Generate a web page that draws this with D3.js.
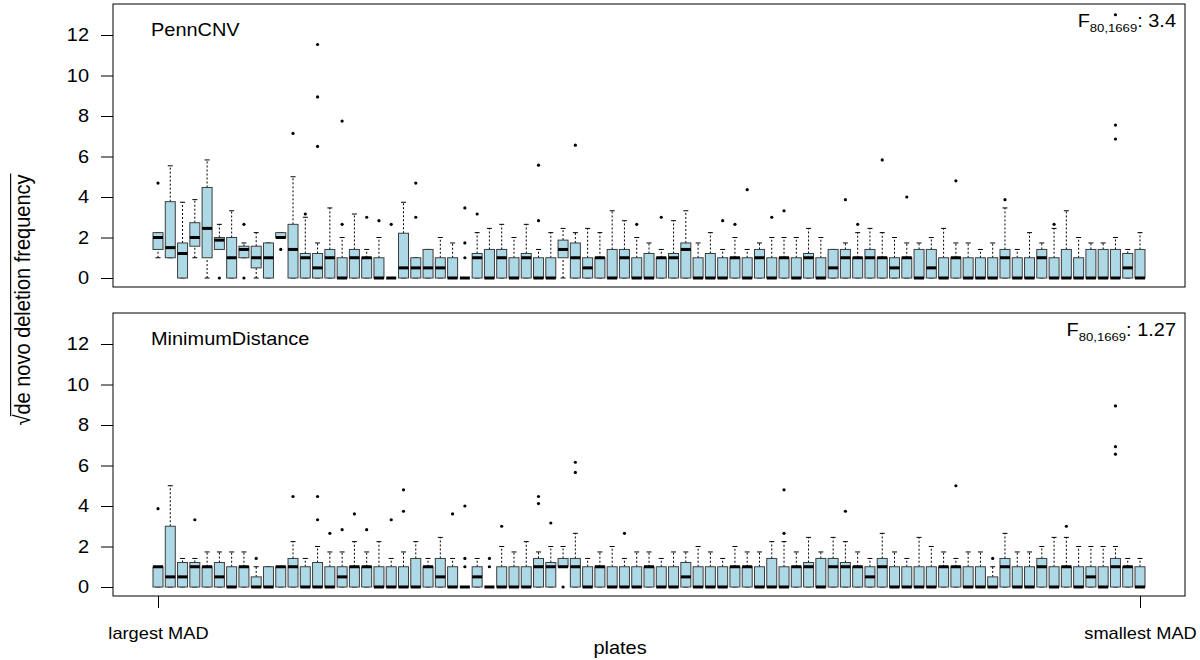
<!DOCTYPE html>
<html>
<head>
<meta charset="utf-8">
<title>de novo deletion frequency by plate</title>
<style>
body { margin: 0; background: #fff; }
svg text { font-family: "Liberation Sans", Arial, Helvetica, sans-serif; fill: #000; }
</style>
</head>
<body>
<div id="container"></div>
<script src="https://cdn.jsdelivr.net/npm/d3@7"></script>
<script>
// One row per plate, ordered from largest to smallest MAD:
// [lower whisker, lower hinge, median, upper hinge, upper whisker]
const pennStats = [
  [1,1.41,2,2.24,2.24],[1,1,1.5,3.77,5.54],[0,0,1.21,1.73,3.74],[1,1.57,2,2.73,3.87],[0,1,2.45,4.47,5.83],
  [1.41,1.41,1.87,2,2.65],[0,0,1,2,3.32],[1,1,1.41,1.57,1.73],[0,0.5,1,1.57,2.24],[0,0,1,1.73,1.73],
  [2,2,2,2.24,2.24],[0,0,1.41,2.65,5],[0,0,1,1.21,3],[0,0,0.5,1.21,1.73],[0,0,1,1.41,3.46],
  [0,0,0,1,2],[0,0,1,1.41,3.16],[0,0,1,1,1.41],[0,0,0,1,2],[0,0,0,0,0],
  [0,0,0.5,2.21,3.74],[0,0,0.5,1,1],[0,0,0.5,1.41,1.41],[0,0,0.5,1,2],[0,0,0,1,1.73],
  [0,0,0,0,0],[0,0,1,1.21,2.24],[0,0,0,1.41,2.45],[0,0,1,1.41,2.65],[0,0,0,1,2],
  [0,0,1,1.21,2.65],[0,0,0,1,1.41],[0,0,0,1,2.24],[0,1,1.41,1.87,2.45],[0,0,1,1.73,2.24],
  [0,0,0.5,1,2.45],[0,0,1,1,2.24],[0,0,0,1.41,3.32],[0,0,1,1.41,2.83],[0,0,0,1,2],
  [0,0,0,1.21,1.73],[0,0,1,1,1.41],[0,0,1,1.21,2.83],[0,0,1.41,1.73,3.32],[0,0,0,1,1.73],
  [0,0,0,1.21,2.24],[0,0,0,1,1.41],[0,0,1,1,2],[0,0,0,1,1.41],[0,0,1,1.41,1.73],
  [0,0,0,1,2],[0,0,1,1,2],[0,0,0,1,2],[0,0,1,1.21,2.45],[0,0,0,1,2],
  [0,0,0.5,1.41,1.41],[0,0,1,1.41,1.73],[0,0,1,1,2.24],[0,0,1,1.41,2.45],[0,0,1,1,2.24],
  [0,0,0.5,1,2],[0,0,1,1,1.73],[0,0,0,1.41,1.73],[0,0,0.5,1.41,2],[0,0,0,1,2.45],
  [0,0,1,1,1.73],[0,0,0,1,1.73],[0,0,0,1,1.41],[0,0,0,1,1.73],[0,0,1,1.41,3.46],
  [0,0,0,1,1.41],[0,0,0,1,2.24],[0,0,1,1.41,1.73],[0,0,0,1,2.45],[0,0,0,1.41,3.32],
  [0,0,0,1,2],[0,0,0,1.41,1.73],[0,0,0,1.41,1.73],[0,0,0,1.41,2],[0,0,0.5,1.21,1.41],
  [0,0,0,1.41,2.24]
];
// [plate, value]
const pennOutliers = [
  [1,4.69],[6,0],[8,2.65],[8,0],[11,1.41],[12,7.14],[13,3.16],[14,6.5],[14,8.94],[14,11.53],
  [16,2.65],[16,7.75],[18,3],[19,2.83],[20,2.65],[22,3],[22,4.69],[26,1],[26,1.73],[26,3.46],
  [27,3.16],[32,2.83],[32,5.57],[35,6.56],[40,2.65],[42,3],[47,2.83],[48,2.65],[49,4.36],[51,3],
  [52,3.32],[57,3.87],[58,2.65],[60,5.83],[62,4],[66,4.8],[70,3.87],[74,2.65],[79,6.86],[79,7.55],
  [79,13]
];

const mdStats = [
  [0,0,1,1,1],[0,0,0.5,3,5],[0,0,0.5,1.21,1.41],[0,0,1,1.21,1.41],[0,0,1,1,1.73],
  [0,0,0.5,1.21,1.73],[0,0,0,1,1.73],[0,0,1,1,1.73],[0,0,0,0.5,1],[0,0,0,1,1],
  [0,0,1,1,1],[0,0,1,1.41,2.24],[0,0,0,1,1.41],[0,0,0,1.21,2],[0,0,0,1,1.73],
  [0,0,0.5,1,1.73],[0,0,1,1,2.24],[0,0,1,1,1.73],[0,0,0,1,2.24],[0,0,0,1,1.41],
  [0,0,0,1,1.73],[0,0,0,1.41,2.24],[0,0,1,1,1.41],[0,0,0.5,1.41,2.45],[0,0,0,1,1.41],
  [0,0,0,0,0],[0,0,0.5,1,1.41],[0,0,0,0,0],[0,0,0,1,2],[0,0,0,1,1.73],
  [0,0,0,1,2.24],[0,0,1,1.41,1.73],[0,0,1,1.21,2],[1,1,1,1.41,2],[0,0,1,1.41,2.65],
  [0,0,0,1,1.41],[0,0,1,1,1.73],[0,0,0,1,2],[0,0,0,1,1.41],[0,0,0,1,1.73],
  [0,0,1,1,1.73],[0,0,0,1,1.41],[0,0,0,1,1.73],[0,0,0.5,1.21,1.73],[0,0,0,1,2],
  [0,0,0,1,1.73],[0,0,0,1,1.41],[0,0,1,1,2],[0,0,1,1,1.73],[0,0,0,1,1.73],
  [0,0,0,1.41,2.24],[0,0,0,1,2.24],[0,0,1,1,1.73],[0,0,1,1.21,2.45],[0,0,0,1.41,1.73],
  [0,0,1,1.41,2.45],[0,0,1,1.21,2.24],[0,0,1,1,1.73],[0,0,0.5,1,1.41],[0,0,1,1.41,2.65],
  [0,0,0,1,1.73],[0,0,0,1,1.41],[0,0,0,1,2.45],[0,0,0,1,2],[0,0,1,1,1.73],
  [0,0,1,1,1.41],[0,0,0,1,1.73],[0,0,0,1,1.73],[0,0,0,0.5,1],[0,0,1,1.41,2.65],
  [0,0,0,1,1.73],[0,0,0,1,1.73],[0,0,1,1.41,2],[0,0,0,1,2.45],[0,0,1,1,2.45],
  [0,0,0,1,2],[0,0,0.5,1,2],[0,0,0,1,2],[0,0,1,1.41,2],[0,0,1,1,1.41],
  [0,0,0,1,1.41]
];
const mdOutliers = [
  [1,3.87],[4,3.32],[9,1.41],[12,4.47],[14,3.32],[14,4.47],[15,2.65],[16,2.83],[17,3.61],[18,2.83],
  [20,3.32],[21,3.74],[21,4.8],[25,3.61],[26,1],[26,1.41],[26,4],[28,1],[28,1.41],[29,3],
  [32,4.12],[32,4.47],[33,3.16],[34,0],[35,5.66],[35,6.16],[39,2.65],[52,2.65],[52,4.8],[57,3.74],
  [66,5],[69,1.41],[75,3],[79,6.56],[79,6.93],[79,8.94]
];

const panelNames = ["PennCNV", "MinimumDistance"];
const fValues = ["3.4", "1.27"];
const yTicks = [0, 2, 4, 6, 8, 10, 12];
const xTickLabels = ["largest MAD", "smallest MAD"];

// Chart dimensions.
const width = 1200;
const height = 660;
const marginLeft = 113;
const marginRight = 15;
const panelTops = [4, 313];
const panelHeight = 283;
const stretch = 1.14; // the original raster is a little wider than tall

const nPlates = pennStats.length;
const x = d3.scaleLinear()
    .domain([1, nPlates])
    .range([158, 1140]);
const boxHalf = 5;

const svg = d3.create("svg")
    .attr("width", width)
    .attr("height", height);

// widen text the same way the source image is widened
function widen(sel) {
  sel.each(function() {
    const t = d3.select(this);
    const tx = +t.attr("x") || 0;
    t.attr("x", 0).attr("transform", `translate(${tx},0) scale(${stretch},1)`);
  });
}

const panels = [
  {name: panelNames[0], stats: pennStats, outliers: pennOutliers, f: fValues[0]},
  {name: panelNames[1], stats: mdStats, outliers: mdOutliers, f: fValues[1]}
];

panels.forEach((p, k) => {
  const top = panelTops[k];
  const y = d3.scaleLinear()
      .domain([0, 12])
      .range([top + 274, top + 31]);
  const g = svg.append("g");

  // y axis
  g.append("g")
      .attr("transform", `translate(${marginLeft},0)`)
      .call(d3.axisLeft(y).tickValues(yTicks).tickSize(12).tickPadding(12))
      .call(a => a.select(".domain").remove())
      .call(a => a.selectAll("text").attr("font-size", 17.5).call(widen));

  const plate = g.selectAll(".plate")
    .data(p.stats)
    .join("g")
      .attr("class", "plate")
      .attr("transform", (d, i) => `translate(${x(i + 1)},0)`);

  // dashed whiskers
  plate.append("line")
      .attr("y1", d => y(d[3])).attr("y2", d => y(d[4]))
      .attr("stroke", "#000").attr("stroke-dasharray", "2,2");
  plate.append("line")
      .attr("y1", d => y(d[0])).attr("y2", d => y(d[1]))
      .attr("stroke", "#000").attr("stroke-dasharray", "2,2");
  // staples
  plate.append("line")
      .attr("x1", -2.5).attr("x2", 2.5)
      .attr("y1", d => y(d[4])).attr("y2", d => y(d[4]))
      .attr("stroke", "#000");
  plate.append("line")
      .attr("x1", -2.5).attr("x2", 2.5)
      .attr("y1", d => y(d[0])).attr("y2", d => y(d[0]))
      .attr("stroke", "#000");
  // boxes
  plate.append("rect")
      .attr("x", -boxHalf)
      .attr("width", boxHalf * 2)
      .attr("y", d => y(d[3]))
      .attr("height", d => y(d[1]) - y(d[3]))
      .attr("fill", "#add8e6")
      .attr("stroke", "#3d3d3d");
  // medians
  plate.append("line")
      .attr("x1", -boxHalf).attr("x2", boxHalf)
      .attr("y1", d => y(d[2])).attr("y2", d => y(d[2]))
      .attr("stroke", "#000").attr("stroke-width", 3);

  // outliers
  g.selectAll(".out")
    .data(p.outliers)
    .join("circle")
      .attr("class", "out")
      .attr("cx", d => x(d[0]))
      .attr("cy", d => y(d[1]))
      .attr("r", 1.6)
      .attr("fill", "#000");

  // frame
  g.append("rect")
      .attr("x", marginLeft)
      .attr("y", top)
      .attr("width", width - marginRight - marginLeft)
      .attr("height", panelHeight)
      .attr("fill", "none")
      .attr("stroke", "#000");

  g.append("text")
      .attr("x", 151)
      .attr("y", top + 32)
      .attr("font-size", 17.5)
      .text(p.name)
      .call(widen);

  const ft = g.append("text")
      .attr("x", 1176)
      .attr("y", top + 23.5)
      .attr("font-size", 17.5)
      .attr("text-anchor", "end");
  ft.append("tspan").text("F");
  ft.append("tspan").attr("font-size", 11.5).attr("dy", 5).text("80,1669");
  ft.append("tspan").attr("dy", -5).text(": " + p.f);
  ft.call(widen);

  // plate axis on the lower panel only
  if (k === panels.length - 1) {
    g.append("g")
        .attr("transform", `translate(0,${top + panelHeight})`)
        .call(d3.axisBottom(x).tickValues([1, nPlates]).tickSize(12).tickPadding(20)
          .tickFormat((d, i) => xTickLabels[i]))
        .call(a => a.select(".domain").remove())
        .call(a => a.selectAll("text").attr("font-size", 16).call(widen));
  }
});

svg.append("text")
    .attr("x", 620)
    .attr("y", 654)
    .attr("font-size", 17.5)
    .attr("text-anchor", "middle")
    .text("plates")
    .call(widen);

// y label with radical sign and vinculum
const yl = svg.append("g")
    .attr("transform", `translate(30,300) scale(${stretch},1) rotate(-90)`);
const ylText = yl.append("text")
    .attr("font-size", 20)
    .attr("text-anchor", "middle")
    .text("\u221Ade novo deletion frequency");

container.append(svg.node());

const total = ylText.node().getComputedTextLength();
const rootW = ylText.node().getSubStringLength(0, 1);
yl.append("line")
    .attr("x1", -total / 2 + rootW * 0.85)
    .attr("x2", total / 2 + 1)
    .attr("y1", -17).attr("y2", -17)
    .attr("stroke", "#000")
    .attr("stroke-width", 1);
</script>
</body>
</html>
